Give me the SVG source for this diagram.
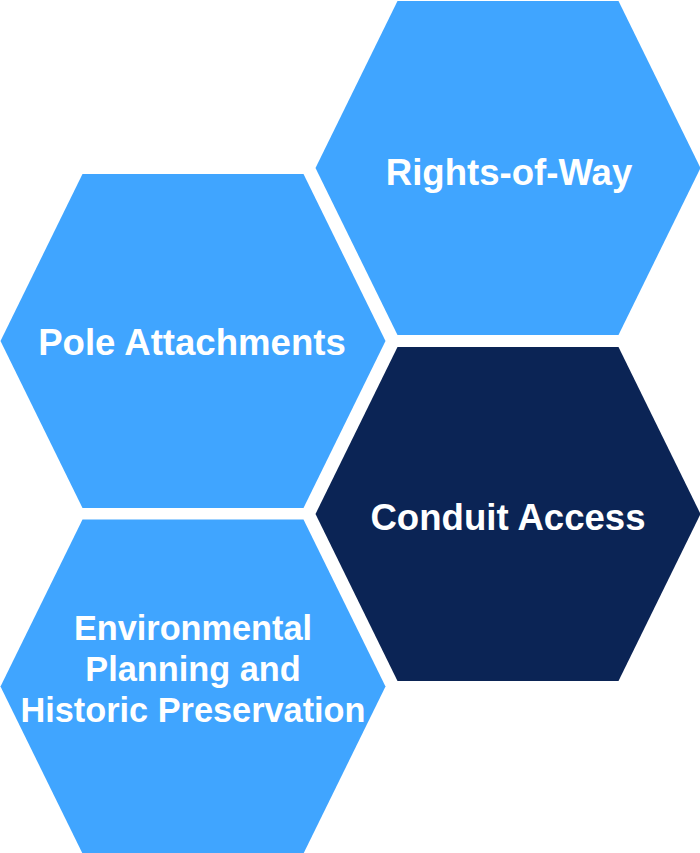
<svg xmlns="http://www.w3.org/2000/svg" width="700" height="853" viewBox="0 0 700 853">
<style>
.light{fill:#40A5FF}
.dark{fill:#0B2455}
.lbl{font-family:"Liberation Sans",Arial,sans-serif;font-weight:bold;font-size:36.6px;fill:#FFFFFF;text-anchor:middle}
.sm{font-size:34.3px}
</style>
<rect width="700" height="853" fill="#FFFFFF"/>
<g id="connectors"/>
<g id="rights-of-way">
<polygon class="light" points="315.5,168 397.5,1 618.5,1 700.5,168 618.5,335 397.5,335"/>
<text class="lbl" x="509" y="185">Rights-of-Way</text>
</g>
<g id="pole-attachments">
<polygon class="light" points="0.5,341 82.5,174 303.5,174 385.5,341 303.5,508 82.5,508"/>
<text class="lbl" x="192" y="354.5">Pole Attachments</text>
</g>
<g id="conduit-access">
<polygon class="dark" points="315.5,514 397.5,347 618.5,347 700.5,514 618.5,681 397.5,681"/>
<text class="lbl" x="508" y="529.5">Conduit Access</text>
</g>
<g id="environmental">
<polygon class="light" points="0.5,686.5 82.5,519.5 303.5,519.5 385.5,686.5 303.5,853.5 82.5,853.5"/>
<text class="lbl sm" x="193" y="640">Environmental</text>
<text class="lbl sm" x="193" y="681">Planning and</text>
<text class="lbl sm" x="193" y="722.3">Historic Preservation</text>
</g>
</svg>
